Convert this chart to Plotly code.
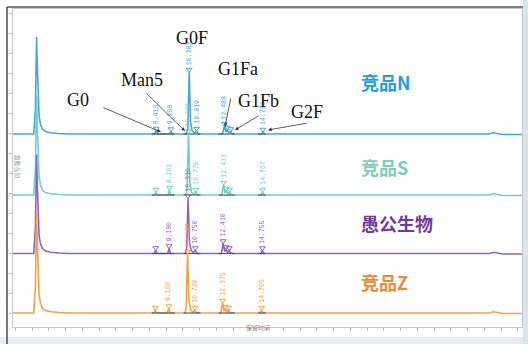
import plotly.graph_objects as go

# ---------------- data ----------------
series_names = ["竞品N", "竞品S", "愚公生物", "竞品Z"]
line_colors = ["#45A6DA", "#6ED0C8", "#8E63C4", "#F5A04A"]
name_colors = ["#1E9FDE", "#7CCDBE", "#6E3A9E", "#EE883A"]

n_time = [-0.2, 1.10, 1.20, 1.27, 1.31, 1.36, 1.42, 1.50, 1.62, 1.80, 2.10, 2.60, 3.20,
          8.30, 8.413, 8.50, 9.20, 9.288, 9.37, 10.22, 10.30, 10.383, 10.46, 10.56, 10.70,
          10.819, 10.93, 12.36, 12.488, 12.57, 12.66, 12.75, 12.86, 12.95, 13.05,
          14.68, 14.783, 14.88, 28.30, 28.55, 28.80, 29.10, 30.4]
n_signal = [0, 0, 25, 97, 70, 35, 18, 10, 5, 2.5, 1.2, 0.5, 0,
            0, 3, 0, 0, 2.5, 0, 0, 5, 62, 12, 3, 1,
            3, 0, 0, 8, 2, 4, 1, 2.5, 0.5, 0,
            0, 2, 0, 0, 1.2, 0.3, -0.5, -0.5]

s_time = [-0.2, 1.10, 1.20, 1.27, 1.31, 1.36, 1.42, 1.50, 1.62, 1.80, 2.10, 2.60, 3.20,
          8.30, 8.40, 8.48, 9.12, 9.202, 9.28, 10.17, 10.25, 10.338, 10.42, 10.52, 10.65,
          10.770, 10.88, 12.32, 12.433, 12.52, 12.61, 12.70, 12.80, 12.88, 12.98,
          14.66, 14.767, 14.86, 28.30, 28.55, 28.80, 29.10, 30.4]
s_signal = [0, 0, 26, 100, 72, 36, 18, 10, 5, 2.5, 1.2, 0.5, 0,
            0, 3, 0, 0, 5, 0, 0, 5, 62, 12, 3, 1,
            3, 0, 0, 10, 2, 4, 1, 3, 0.5, 0,
            0, 3, 0, 0, 1.2, 0.3, -0.5, -0.5]

p_time = [-0.2, 1.10, 1.20, 1.27, 1.31, 1.36, 1.42, 1.50, 1.62, 1.80, 2.10, 2.60, 3.20,
          8.28, 8.38, 8.46, 9.10, 9.180, 9.26, 10.15, 10.23, 10.316, 10.40, 10.50, 10.63,
          10.750, 10.86, 12.30, 12.410, 12.50, 12.59, 12.68, 12.78, 12.86, 12.96,
          14.65, 14.755, 14.85, 28.30, 28.55, 28.80, 29.10, 30.4]
p_signal = [0, 0, 26, 99, 71, 36, 18, 10, 5, 2.5, 1.2, 0.5, 0,
            0, 3, 0, 0, 5, 0, 0, 5, 55, 11, 3, 1,
            3, 0, 0, 10, 2, 4, 1, 3, 0.5, 0,
            0, 3, 0, 0, 1.2, 0.3, -0.5, -0.5]

z_time = [-0.2, 1.10, 1.20, 1.27, 1.31, 1.36, 1.42, 1.50, 1.62, 1.80, 2.10, 2.60, 3.20,
          8.26, 8.36, 8.44, 9.08, 9.160, 9.24, 10.12, 10.20, 10.288, 10.37, 10.47, 10.60,
          10.720, 10.83, 12.26, 12.375, 12.46, 12.55, 12.64, 12.74, 12.82, 12.92,
          14.60, 14.705, 14.80, 28.30, 28.55, 28.80, 29.10, 30.4]
z_signal = [0, 0, 26, 100, 72, 36, 18, 10, 5, 2.5, 1.2, 0.5, 0,
            0, 3, 0, 0, 4.5, 0, 0, 5, 59, 12, 3, 1,
            3, 0, 0, 10, 2, 4, 1, 3, 0.5, 0,
            0, 3, 0, 0, 1.2, 0.3, -0.5, -0.5]

# detected peaks: retention time, height, printed label
n_peak_time = [8.413, 9.288, 10.383, 10.819, 12.488, 12.66, 12.86, 14.783]
n_peak_height = [3, 2.5, 62, 3, 8, 4, 2.5, 2]
n_peak_label = ["8.413", "9.288", "10.383", "10.819", "12.488", "", "", "14.783"]

s_peak_time = [8.40, 9.202, 10.338, 10.770, 12.433, 12.61, 12.80, 14.767]
s_peak_height = [3, 5, 62, 3, 10, 4, 3, 3]
s_peak_label = ["", "9.202", "10.338", "10.770", "12.433", "", "", "14.767"]

p_peak_time = [8.38, 9.180, 10.316, 10.750, 12.410, 12.59, 12.78, 14.755]
p_peak_height = [3, 5, 55, 3, 10, 4, 3, 3]
p_peak_label = ["", "9.180", "10.316", "10.750", "12.410", "", "", "14.755"]

z_peak_time = [8.36, 9.160, 10.288, 10.720, 12.375, 12.55, 12.74, 14.705]
z_peak_height = [3, 4.5, 59, 3, 10, 4, 3, 3]
z_peak_label = ["", "9.160", "10.288", "10.720", "12.375", "", "", "14.705"]

# integration baseline windows (min)
integ_start = [8.15, 10.05, 12.15, 14.50]
integ_end = [9.50, 11.05, 13.10, 14.95]

glycan_names = ["G0", "Man5", "G0F", "G1Fa", "G1Fb", "G2F"]

# ---------------- layout helpers ----------------
W, H = 528, 344
L, R, T, B = 13, 522, 9, 327
X_MIN, X_MAX = -0.137, 30.25
Y_MAX = B - T
offsets = [193, 132, 73.5, 14]


def px(x):
    return (x - L) / (R - L)


def py(y):
    return (B - y) / (B - T)


def tx(x):
    return X_MIN + (x - L) / (R - L) * (X_MAX - X_MIN)


def vy(y):
    return B - y


traces = [(n_time, n_signal, n_peak_time, n_peak_height, n_peak_label),
          (s_time, s_signal, s_peak_time, s_peak_height, s_peak_label),
          (p_time, p_signal, p_peak_time, p_peak_height, p_peak_label),
          (z_time, z_signal, z_peak_time, z_peak_height, z_peak_label)]

fig = go.Figure()
annotations = []

for i, (t, v, pt, ph, pl) in enumerate(traces):
    off = offsets[i]
    col = line_colors[i]
    fig.add_trace(go.Scatter(x=t, y=[val + off for val in v], mode="lines",
                             line=dict(color=col, width=1.6), name=series_names[i],
                             hoverinfo="skip", showlegend=False))
    ix, iy = [], []
    for a, b in zip(integ_start, integ_end):
        ix += [a, b, None]
        iy += [off, off, None]
    fig.add_trace(go.Scatter(x=ix, y=iy, mode="lines", line=dict(color="#555555", width=1.2),
                             hoverinfo="skip", showlegend=False))
    fig.add_trace(go.Scatter(x=pt, y=[h + off + 2.5 for h in ph], mode="markers",
                             marker=dict(symbol="triangle-down-open", size=5,
                                         color=col, line=dict(width=1.0, color=col)),
                             hoverinfo="skip", showlegend=False))
    for tt, hh, lab in zip(pt, ph, pl):
        if lab:
            annotations.append(dict(x=tt, y=hh + off + 5, xref="x", yref="y", text=lab,
                                    textangle=-90, showarrow=False, xanchor="center",
                                    yanchor="bottom",
                                    font=dict(family="Liberation Mono", size=6.5, color=col)))

# series names
name_pos_y = [82, 167, 223, 282]
for i, nm in enumerate(series_names):
    annotations.append(dict(x=tx(359), y=vy(name_pos_y[i]), xref="x", yref="y", text="<b>" + nm + "</b>",
                            showarrow=False, xanchor="left", yanchor="middle",
                            font=dict(family="Noto Sans CJK SC", size=18, color=name_colors[i])))

# glycan labels
label_pos = [(78, 100), (142, 80), (192, 38), (238, 69), (258, 101), (307, 112)]
for nm, (lx, ly) in zip(glycan_names, label_pos):
    annotations.append(dict(x=tx(lx), y=vy(ly), xref="x", yref="y", text=nm, showarrow=False,
                            xanchor="center", yanchor="middle",
                            font=dict(family="Liberation Serif", size=18, color="#111")))

# arrows (head pixel, tail pixel)
arrows = [((161, 132), (102, 107)), ((185, 131), (145, 92)), ((225, 127), (231, 97)),
          ((235, 130), (260, 115)), ((268, 130), (308, 123))]
for (hx, hy), (sx, sy) in arrows:
    annotations.append(dict(x=tx(hx), y=vy(hy), xref="x", yref="y", text="", showarrow=True,
                            ax=sx - hx, ay=sy - hy, arrowhead=2, arrowsize=0.9,
                            arrowwidth=0.8, arrowcolor="#333", standoff=0, startstandoff=0))

# axis titles
annotations.append(dict(x=px(258), y=py(334), xref="paper", yref="paper", text="保留时间",
                        showarrow=False, font=dict(family="Noto Sans CJK SC", size=6, color="#888")))
annotations.append(dict(x=px(9), y=py(167), xref="paper", yref="paper", text="信号强度",
                        textangle=-90, showarrow=False,
                        font=dict(family="Noto Sans CJK SC", size=6, color="#999")))

shapes = [
    dict(type="rect", xref="paper", yref="paper", x0=px(0), x1=px(528), y0=py(337), y1=py(345),
         fillcolor="#E8EDF3", line=dict(width=0), layer="below"),
    dict(type="rect", xref="paper", yref="paper", x0=px(523), x1=px(529), y0=py(-1), y1=py(345),
         fillcolor="#DCE3EB", line=dict(width=0), layer="below"),
    dict(type="line", xref="paper", yref="paper", x0=px(7), x1=px(523), y0=py(7), y1=py(7),
         line=dict(color="#555", width=1.6)),
    dict(type="line", xref="paper", yref="paper", x0=px(7), x1=px(7), y0=py(7), y1=py(345),
         line=dict(color="#555", width=1.6)),
]

fig.update_layout(
    width=W, height=H,
    margin=dict(l=L, r=W - R, t=T, b=H - B, autoexpand=False),
    paper_bgcolor="white", plot_bgcolor="white",
    showlegend=False,
    annotations=annotations,
    shapes=shapes,
    xaxis=dict(range=[X_MIN, X_MAX], showgrid=False, zeroline=False, showline=True,
               linecolor="#c8c8c8", linewidth=1, mirror=True, ticks="outside", ticklen=3,
               tickcolor="#bbb", tick0=0, dtick=1, showticklabels=False),
    yaxis=dict(range=[0, Y_MAX], showgrid=False, zeroline=False, showline=True,
               linecolor="#c8c8c8", linewidth=1, mirror=True, ticks="outside", ticklen=3,
               tickcolor="#bbb", tick0=14, dtick=20, showticklabels=False),
)

fig.write_html("out.html", config={"displayModeBar": False},
               post_script="document.body.style.margin='0';document.body.style.overflow='hidden';")
